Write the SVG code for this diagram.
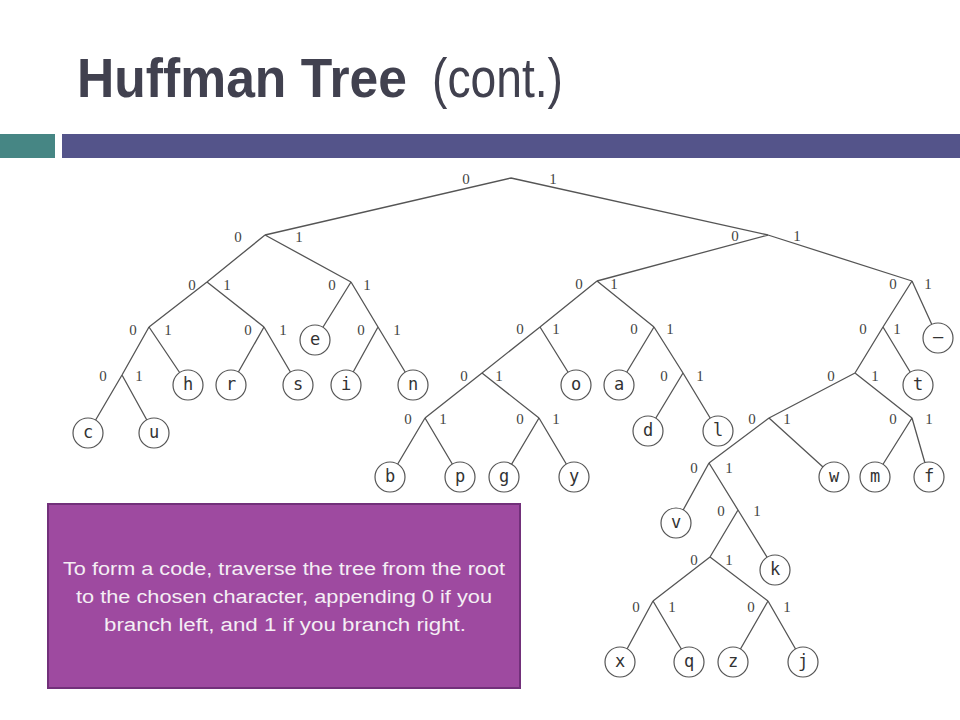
<svg xmlns="http://www.w3.org/2000/svg" width="960" height="720" viewBox="0 0 960 720">
<style>
.e{stroke:#555;stroke-width:1.3;fill:none}
.b{font-family:"Liberation Serif","Times New Roman",serif;font-size:15px;fill:#444;text-anchor:middle}
.lf circle{fill:#fff;stroke:#555;stroke-width:1.2}
.lf text{font-family:"DejaVu Sans Mono","Liberation Mono",monospace;font-size:17px;fill:#333;text-anchor:middle}
.t{font-family:"Liberation Sans",Arial,sans-serif;font-size:18px;fill:#f4eef4;text-anchor:middle}
.h{font-family:"Liberation Sans",Arial,sans-serif;font-size:55px;fill:#41414f}
</style>
<rect width="960" height="720" fill="#fff"/>
<g id="title">
<text class="h" x="77" y="97" font-weight="bold" textLength="330" lengthAdjust="spacingAndGlyphs">Huffman Tree</text>
<text class="h" x="432" y="97" textLength="131" lengthAdjust="spacingAndGlyphs">(cont.)</text>
</g>
<rect x="0" y="134" width="55" height="24" fill="#468684"/>
<rect x="62" y="134" width="898" height="24" fill="#54548a"/>
<g id="connectors">
<path class="e" d="M511,178L265,235M511,178L768,235
M265,235L207,282M265,235L351,282
M207,282L149,327M207,282L264,327
M149,327L122,375M149,327L188,385
M122,375L88,433M122,375L154,433
M264,327L231,385M264,327L298,385
M351,282L315,340M351,282L378,327
M378,327L346,385M378,327L413,385
M768,235L597,281M768,235L912,281
M597,281L540,327M597,281L654,327
M540,327L482,373M540,327L576,385
M482,373L425,418M482,373L539,418
M425,418L390,477M425,418L460,477
M539,418L504,477M539,418L574,477
M654,327L619,385M654,327L683,373
M683,373L648,431M683,373L718,431
M912,281L883,327M912,281L938,338
M883,327L855,373M883,327L918,385
M855,373L769,418M855,373L912,418
M769,418L709,463M769,418L834,477
M912,418L875,477M912,418L929,477
M709,463L676,523M709,463L738,510
M738,510L710,557M738,510L775,570
M710,557L653,601M710,557L768,601
M653,601L620,662M653,601L689,662
M768,601L733,662M768,601L803,662"/>
</g>
<g id="n-root"><text class="b" x="466" y="184">0</text><text class="b" x="553" y="184">1</text></g>
<g id="n-0"><text class="b" x="238" y="242">0</text><text class="b" x="299" y="242">1</text></g>
<g id="n-1"><text class="b" x="735" y="241">0</text><text class="b" x="797" y="241">1</text></g>
<g id="n-00"><text class="b" x="192" y="290">0</text><text class="b" x="227" y="290">1</text></g>
<g id="n-01"><text class="b" x="332" y="290">0</text><text class="b" x="367" y="290">1</text></g>
<g id="n-10"><text class="b" x="579" y="289">0</text><text class="b" x="614" y="289">1</text></g>
<g id="n-11"><text class="b" x="893" y="289">0</text><text class="b" x="928" y="289">1</text></g>
<g id="n-000"><text class="b" x="133" y="335">0</text><text class="b" x="168" y="335">1</text></g>
<g id="n-001"><text class="b" x="248" y="335">0</text><text class="b" x="283" y="335">1</text></g>
<g id="n-011"><text class="b" x="361" y="335">0</text><text class="b" x="397" y="335">1</text></g>
<g id="n-100"><text class="b" x="520" y="334">0</text><text class="b" x="556" y="334">1</text></g>
<g id="n-101"><text class="b" x="634" y="334">0</text><text class="b" x="670" y="334">1</text></g>
<g id="n-110"><text class="b" x="863" y="334">0</text><text class="b" x="897" y="334">1</text></g>
<g id="n-0000"><text class="b" x="103" y="381">0</text><text class="b" x="139" y="381">1</text></g>
<g id="n-1000"><text class="b" x="464" y="381">0</text><text class="b" x="499" y="381">1</text></g>
<g id="n-1011"><text class="b" x="664" y="381">0</text><text class="b" x="700" y="381">1</text></g>
<g id="n-1100"><text class="b" x="831" y="381">0</text><text class="b" x="875" y="381">1</text></g>
<g id="n-10000"><text class="b" x="408" y="424">0</text><text class="b" x="443" y="424">1</text></g>
<g id="n-10001"><text class="b" x="520" y="424">0</text><text class="b" x="556" y="424">1</text></g>
<g id="n-11000"><text class="b" x="752" y="424">0</text><text class="b" x="787" y="424">1</text></g>
<g id="n-11001"><text class="b" x="893" y="424">0</text><text class="b" x="929" y="424">1</text></g>
<g id="n-110000"><text class="b" x="694" y="473">0</text><text class="b" x="729" y="473">1</text></g>
<g id="n-1100001"><text class="b" x="721" y="516">0</text><text class="b" x="757" y="516">1</text></g>
<g id="n-11000010"><text class="b" x="694" y="565">0</text><text class="b" x="729" y="565">1</text></g>
<g id="n-110000100"><text class="b" x="636" y="612">0</text><text class="b" x="672" y="612">1</text></g>
<g id="n-110000101"><text class="b" x="751" y="612">0</text><text class="b" x="787" y="612">1</text></g>
<g id="leaf-c" class="lf"><circle cx="88" cy="433" r="15"/><text x="88" y="438">c</text></g>
<g id="leaf-u" class="lf"><circle cx="154" cy="433" r="15"/><text x="154" y="438">u</text></g>
<g id="leaf-h" class="lf"><circle cx="188" cy="385" r="15"/><text x="188" y="390">h</text></g>
<g id="leaf-r" class="lf"><circle cx="231" cy="385" r="15"/><text x="231" y="390">r</text></g>
<g id="leaf-s" class="lf"><circle cx="298" cy="385" r="15"/><text x="298" y="390">s</text></g>
<g id="leaf-e" class="lf"><circle cx="315" cy="340" r="15"/><text x="315" y="345">e</text></g>
<g id="leaf-i" class="lf"><circle cx="346" cy="385" r="15"/><text x="346" y="390">i</text></g>
<g id="leaf-n" class="lf"><circle cx="413" cy="385" r="15"/><text x="413" y="390">n</text></g>
<g id="leaf-b" class="lf"><circle cx="390" cy="477" r="15"/><text x="390" y="482">b</text></g>
<g id="leaf-p" class="lf"><circle cx="460" cy="477" r="15"/><text x="460" y="482">p</text></g>
<g id="leaf-g" class="lf"><circle cx="504" cy="477" r="15"/><text x="504" y="482">g</text></g>
<g id="leaf-y" class="lf"><circle cx="574" cy="477" r="15"/><text x="574" y="482">y</text></g>
<g id="leaf-o" class="lf"><circle cx="576" cy="385" r="15"/><text x="576" y="390">o</text></g>
<g id="leaf-a" class="lf"><circle cx="619" cy="385" r="15"/><text x="619" y="390">a</text></g>
<g id="leaf-d" class="lf"><circle cx="648" cy="431" r="15"/><text x="648" y="436">d</text></g>
<g id="leaf-l" class="lf"><circle cx="718" cy="431" r="15"/><text x="718" y="436">l</text></g>
<g id="leaf-space" class="lf"><circle cx="938" cy="338" r="15"/><text x="938" y="343">—</text></g>
<g id="leaf-t" class="lf"><circle cx="918" cy="385" r="15"/><text x="918" y="390">t</text></g>
<g id="leaf-w" class="lf"><circle cx="834" cy="477" r="15"/><text x="834" y="482">w</text></g>
<g id="leaf-m" class="lf"><circle cx="875" cy="477" r="15"/><text x="875" y="482">m</text></g>
<g id="leaf-f" class="lf"><circle cx="929" cy="477" r="15"/><text x="929" y="482">f</text></g>
<g id="leaf-v" class="lf"><circle cx="676" cy="523" r="15"/><text x="676" y="528">v</text></g>
<g id="leaf-k" class="lf"><circle cx="775" cy="570" r="15"/><text x="775" y="575">k</text></g>
<g id="leaf-x" class="lf"><circle cx="620" cy="662" r="15"/><text x="620" y="667">x</text></g>
<g id="leaf-q" class="lf"><circle cx="689" cy="662" r="15"/><text x="689" y="667">q</text></g>
<g id="leaf-z" class="lf"><circle cx="733" cy="662" r="15"/><text x="733" y="667">z</text></g>
<g id="leaf-j" class="lf"><circle cx="803" cy="662" r="15"/><text x="803" y="667">j</text></g>
<g id="callout">
<rect x="48" y="504" width="472" height="184" fill="#9e4aa0" stroke="#72307a" stroke-width="2"/>
<text class="t" x="284" y="575" textLength="442" lengthAdjust="spacingAndGlyphs">To form a code, traverse the tree from the root</text>
<text class="t" x="284" y="603" textLength="416" lengthAdjust="spacingAndGlyphs">to the chosen character, appending 0 if you</text>
<text class="t" x="285" y="631" textLength="362" lengthAdjust="spacingAndGlyphs">branch left, and 1 if you branch right.</text>
</g>
</svg>
